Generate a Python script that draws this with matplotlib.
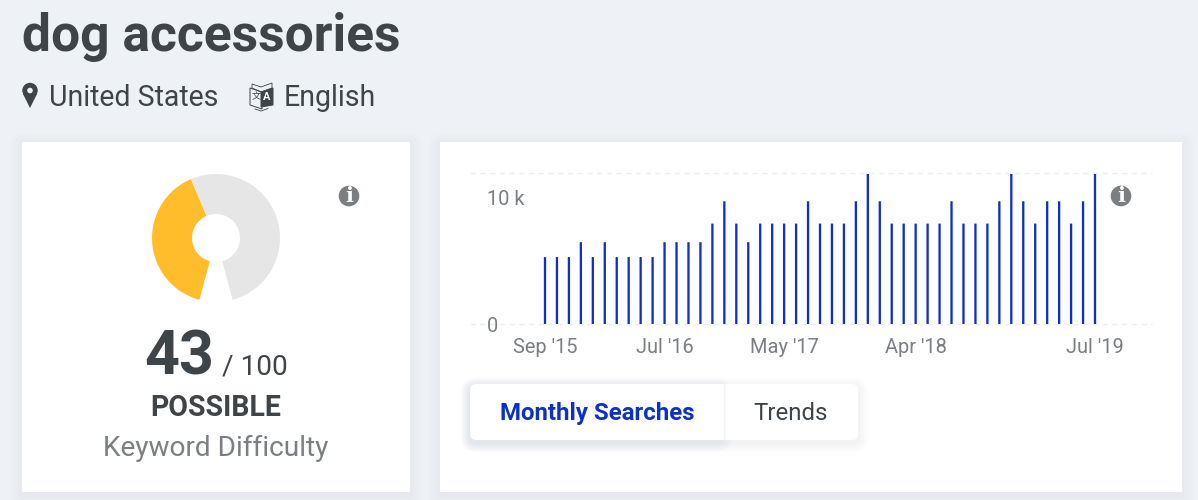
import matplotlib
matplotlib.use("Agg")
import matplotlib.pyplot as plt
from matplotlib.patches import Rectangle, FancyBboxPatch, Circle, Polygon
from matplotlib.transforms import ScaledTranslation

# ---- data ----
months = list(range(47))
searches = [5400, 5400, 5400, 6600, 5400, 6600, 5400, 5400, 5400, 5400,
            6600, 6600, 6600, 6600, 8100, 9900, 8100, 6600, 8100, 8100,
            8100, 8100, 9900, 8100, 8100, 8100, 9900, 12100, 9900, 8100,
            8100, 8100, 8100, 8100, 9900, 8100, 8100, 8100, 9900, 12100,
            9900, 8100, 9900, 9900, 8100, 9900, 12100]
x_tick_positions = [0, 10, 20, 31, 46]
x_tick_labels = ["Sep '15", "Jul '16", "May '17", "Apr '18", "Jul '19"]
y_tick_positions = [0, 10000]
y_tick_labels = ["0", "10 k"]
difficulty = [43, 57, 9.09]
difficulty_colors = ["#FFBC2B", "#E6E6E6", "none"]

BG = "#EEF2F6"
DARK = "#3F4449"
GRAY = "#7B7E83"
BLUE = "#0F2FC9"
W, H = 1198, 500
plt.rcParams["font.family"] = ["Roboto", "DejaVu Sans"]

def pt(px):
    return px * 72 / 100

fig = plt.figure(figsize=(W / 100, H / 100), dpi=100, facecolor=BG)

def px_axes(x0, y0, x1, y1, **kw):
    return fig.add_axes([x0 / W, 1 - y1 / H, (x1 - x0) / W, (y1 - y0) / H], **kw)

# page layer, in pixel coordinates
pg = px_axes(0, 0, W, H)
pg.set_xlim(0, W); pg.set_ylim(H, 0); pg.axis("off")

def shadow(x0, y0, x1, y1, color, steps=8, spread=1.5, dy=3, alpha=0.012, z=1, rounding=0):
    for i in range(steps, 0, -1):
        s = i * spread
        pg.add_patch(FancyBboxPatch((x0 - s, y0 - s + dy), x1 - x0 + 2 * s, y1 - y0 + 2 * s,
                                    boxstyle=f"round,pad=0,rounding_size={rounding + s}",
                                    fc=color, ec="none", alpha=alpha, zorder=z))

for (x0, x1) in [(22, 410), (440, 1182)]:
    shadow(x0, 142, x1, 492, "#8A94A6", alpha=0.006)
    pg.add_patch(Rectangle((x0, 142), x1 - x0, 350, fc="white", ec="none", zorder=2))

# heading
pg.text(22, 37.5, "dog accessories", fontsize=pt(51.5), fontweight="bold", color=DARK, va="center", ha="left")
pg.text(49, 98.5, "United States", fontsize=pt(28.5), color=DARK, va="center", ha="left")
pg.text(284, 98.5, "English", fontsize=pt(28.5), color=DARK, va="center", ha="left")

# pin icon
pg.add_patch(Circle((30, 90.5), 7.7, fc=DARK, ec="none", zorder=3))
pg.add_patch(Polygon([(23, 94), (37, 94), (30, 108)], fc=DARK, ec="none", zorder=3))
pg.add_patch(Circle((30, 90.5), 2.8, fc=BG, ec="none", zorder=4))

# translate icon
pg.add_patch(Polygon([(250, 88), (262, 92), (262, 109), (250, 105)], fc="none", ec=DARK, lw=0.7, zorder=3))
pg.add_patch(Polygon([(261, 92), (273, 88), (273, 105), (261, 107)], fc=DARK, ec=DARK, lw=0.7, zorder=3))
pg.add_patch(Polygon([(252, 84), (261, 87), (272, 83), (272, 88), (261, 92), (252, 88)], fc=BG, ec=DARK, lw=0.6, zorder=2))
pg.text(267, 97.5, "A", fontsize=pt(11), fontweight="bold", color="white", ha="center", va="center", zorder=4)
pg.text(256, 97, "文", fontsize=pt(9), color=DARK, ha="center", va="center", zorder=4,
        family=["Noto Sans CJK SC", "DejaVu Sans"])
pg.plot([255, 261, 268], [109, 111, 108.5], color=DARK, lw=0.6, zorder=3)

# info icons
for cx, cy in [(349, 196), (1121, 196)]:
    pg.add_patch(Circle((cx, cy), 10.3, fc=GRAY, ec="none", zorder=3))
    pg.text(cx, cy + 0.5, "i", fontsize=pt(21), fontweight="bold", family="DejaVu Serif",
            color="white", ha="center", va="center", zorder=4)

# score text
pg.text(144, 357.5, "43", fontsize=pt(61), fontweight="bold", color=DARK, va="center", ha="left", zorder=3)
pg.text(222, 367, "/ 100", fontsize=pt(28), color=DARK, va="center", ha="left", zorder=3)
pg.text(216, 408.5, "POSSIBLE", fontsize=pt(28.5), fontweight="bold", color=DARK, va="center", ha="center", zorder=3)
pg.text(216, 448, "Keyword Difficulty", fontsize=pt(28), color=GRAY, va="center", ha="center", zorder=3)

# tabs
shadow(470, 384, 858, 440, "#5A6070", steps=6, spread=1.6, dy=3, alpha=0.011, z=3, rounding=6)
shadow(470, 384, 723, 440, "#2F4BE0", steps=6, spread=1.4, dy=3, alpha=0.012, z=3, rounding=6)
pg.add_patch(FancyBboxPatch((470, 384), 388, 56, boxstyle="round,pad=0,rounding_size=6",
                            fc="white", ec="none", zorder=4))
pg.plot([723.5, 723.5], [384, 440], color="#F0F1F3", lw=1, zorder=5)
pg.text(597, 413.5, "Monthly Searches", fontsize=pt(24), fontweight="bold", color=BLUE, va="center", ha="center", zorder=6)
pg.text(791, 413, "Trends", fontsize=pt(24), color=DARK, va="center", ha="center", zorder=6)

# donut
dn = px_axes(216 - 64, 238 - 64, 216 + 64, 238 + 64)
dn.pie(difficulty, colors=difficulty_colors, startangle=-105, counterclock=False, radius=1,
       wedgeprops={"width": 1 - 24 / 64, "linewidth": 0})
dn.set_xlim(-1, 1); dn.set_ylim(-1, 1); dn.set_aspect("equal")
dn.patch.set_alpha(0)

# bar chart
ax = px_axes(470, 172.5, 1152, 324)
ax.patch.set_alpha(0)
bars = ax.bar(months, searches, width=2.3 / 11.957, color=BLUE, linewidth=0, zorder=3)
for b in bars:
    b.set_snap(False)
ax.set_xlim(-75 / 11.957, 46 + 57 / 11.957)
ax.set_ylim(0, 12220)
for s in ax.spines.values():
    s.set_visible(False)
for yv in (0, 12220):
    ax.axhline(yv, color="#EBEFF3", lw=1, ls=(0, (4, 3)), clip_on=False, zorder=1)
ax.set_xticks(x_tick_positions, x_tick_labels)
ax.set_yticks(y_tick_positions, y_tick_labels)
ax.tick_params(axis="x", length=0, pad=pt(14), labelsize=pt(20), labelcolor=GRAY)
ax.tick_params(axis="y", length=0, pad=pt(-17), labelsize=pt(20), labelcolor=GRAY)
for lbl in ax.get_yticklabels():
    lbl.set_ha("left")
ten_k = ax.get_yticklabels()[1]
ten_k.set_transform(ten_k.get_transform() + ScaledTranslation(0, 3 / 100, fig.dpi_scale_trans))

fig.savefig("out.png", dpi=100, facecolor=BG)
